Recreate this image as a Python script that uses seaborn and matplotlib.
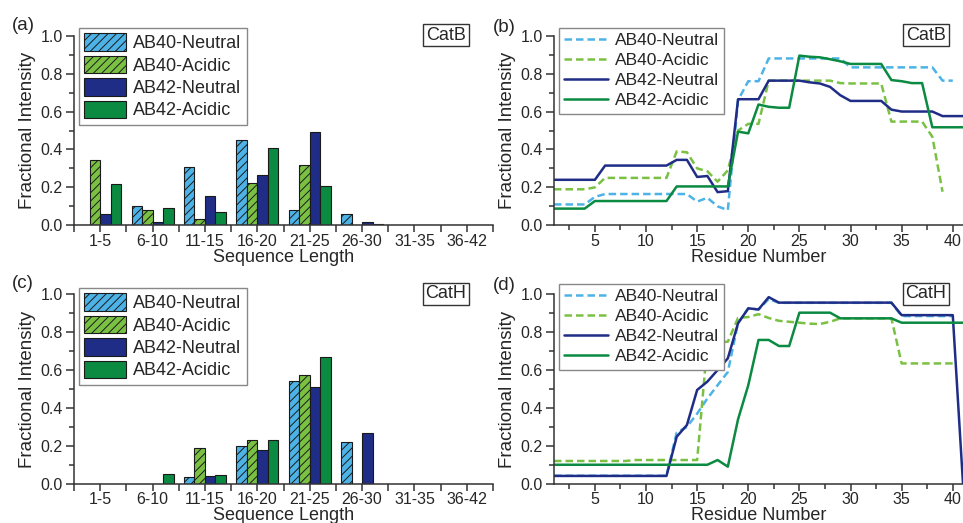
import numpy as np
import pandas as pd
import matplotlib
matplotlib.use("Agg")
import matplotlib.pyplot as plt
from matplotlib.ticker import MultipleLocator, FixedLocator
import seaborn as sns

sns.set_theme(style="ticks")
plt.rcParams["font.family"] = ["Liberation Sans", "DejaVu Sans"]
plt.rcParams["hatch.linewidth"] = 0.7

# ---- data ----
series = ["AB40-Neutral", "AB40-Acidic", "AB42-Neutral", "AB42-Acidic"]
colors = ["#4db3e6", "#7ac143", "#1f2d86", "#0b8a41"]

lengths = ["1-5", "6-10", "11-15", "16-20", "21-25", "26-30", "31-35", "36-42"]

# (a) CatB, fractional intensity per sequence length bin
catb_ab40_neutral = [0.0, 0.104, 0.308, 0.45, 0.081, 0.06, 0.0, 0.0]
catb_ab40_acidic = [0.343, 0.083, 0.035, 0.223, 0.316, 0.0, 0.0, 0.0]
catb_ab42_neutral = [0.058, 0.016, 0.155, 0.265, 0.494, 0.015, 0.0, 0.0]
catb_ab42_acidic = [0.22, 0.09, 0.07, 0.406, 0.207, 0.008, 0.0, 0.0]

# (c) CatH
cath_ab40_neutral = [0.0, 0.0, 0.035, 0.2, 0.54, 0.222, 0.0, 0.0]
cath_ab40_acidic = [0.0, 0.0, 0.19, 0.229, 0.576, 0.0, 0.0, 0.0]
cath_ab42_neutral = [0.0, 0.0, 0.04, 0.18, 0.51, 0.268, 0.0, 0.0]
cath_ab42_acidic = [0.0, 0.051, 0.048, 0.232, 0.667, 0.0, 0.0, 0.0]

residues = list(range(1, 42))

# (b) CatB, fractional intensity per residue
res_b_ab40_neutral = [0.11, 0.11, 0.11, 0.11, 0.15, 0.165, 0.165, 0.165, 0.165, 0.165,
                      0.165, 0.165, 0.165, 0.165, 0.125, 0.145, 0.1, 0.08, 0.66, 0.76,
                      0.76, 0.88, 0.88, 0.88, 0.88, 0.88, 0.88, 0.88, 0.88, 0.833,
                      0.833, 0.833, 0.833, 0.833, 0.833, 0.833, 0.833, 0.833, 0.763, 0.763]
res_b_ab40_acidic = [0.19, 0.19, 0.19, 0.19, 0.2, 0.25, 0.25, 0.25, 0.25, 0.25,
                     0.25, 0.25, 0.39, 0.385, 0.3, 0.285, 0.23, 0.29, 0.5, 0.535,
                     0.535, 0.763, 0.763, 0.763, 0.763, 0.763, 0.763, 0.763, 0.75, 0.748,
                     0.748, 0.748, 0.748, 0.547, 0.547, 0.547, 0.547, 0.467, 0.177]
res_b_ab42_neutral = [0.24, 0.24, 0.24, 0.24, 0.24, 0.315, 0.315, 0.315, 0.315, 0.315,
                      0.315, 0.315, 0.345, 0.345, 0.255, 0.26, 0.175, 0.18, 0.665, 0.665,
                      0.665, 0.763, 0.763, 0.763, 0.763, 0.754, 0.748, 0.73, 0.686, 0.656,
                      0.656, 0.656, 0.656, 0.61, 0.6, 0.6, 0.6, 0.6, 0.576, 0.576, 0.576]
res_b_ab42_acidic = [0.088, 0.088, 0.088, 0.088, 0.128, 0.128, 0.128, 0.128, 0.128, 0.128,
                     0.128, 0.128, 0.205, 0.205, 0.205, 0.205, 0.205, 0.205, 0.494, 0.485,
                     0.637, 0.625, 0.62, 0.62, 0.895, 0.889, 0.886, 0.876, 0.865, 0.851,
                     0.851, 0.851, 0.851, 0.766, 0.76, 0.75, 0.75, 0.517, 0.517, 0.517, 0.517]

# (d) CatH
res_d_ab40_neutral = [0.042, 0.042, 0.042, 0.042, 0.042, 0.042, 0.042, 0.042, 0.042, 0.042,
                      0.042, 0.042, 0.27, 0.3, 0.37, 0.45, 0.52, 0.59, 0.85, 0.925,
                      0.92, 0.975, 0.955, 0.955, 0.955, 0.955, 0.955, 0.955, 0.955, 0.955,
                      0.955, 0.955, 0.955, 0.955, 0.885, 0.885, 0.885, 0.885, 0.885, 0.885]
res_d_ab40_acidic = [0.12, 0.12, 0.12, 0.12, 0.12, 0.12, 0.12, 0.12, 0.125, 0.125,
                     0.125, 0.125, 0.125, 0.125, 0.125, 0.74, 0.745, 0.75, 0.875, 0.88,
                     0.895, 0.875, 0.86, 0.855, 0.85, 0.845, 0.843, 0.855, 0.873, 0.873,
                     0.873, 0.873, 0.873, 0.873, 0.635, 0.635, 0.635, 0.635, 0.635, 0.635]
res_d_ab42_neutral = [0.041, 0.041, 0.041, 0.041, 0.041, 0.041, 0.041, 0.041, 0.041, 0.041,
                      0.041, 0.041, 0.248, 0.31, 0.495, 0.539, 0.6, 0.662, 0.847, 0.926,
                      0.92, 0.985, 0.956, 0.956, 0.956, 0.956, 0.956, 0.956, 0.956, 0.956,
                      0.956, 0.956, 0.956, 0.956, 0.89, 0.89, 0.89, 0.89, 0.89, 0.89, 0.0]
res_d_ab42_acidic = [0.1, 0.1, 0.1, 0.1, 0.1, 0.1, 0.1, 0.1, 0.1, 0.1,
                     0.1, 0.1, 0.1, 0.1, 0.1, 0.1, 0.125, 0.09, 0.34, 0.52,
                     0.759, 0.759, 0.727, 0.727, 0.903, 0.903, 0.903, 0.903, 0.873, 0.873,
                     0.873, 0.873, 0.873, 0.873, 0.85, 0.85, 0.85, 0.85, 0.85, 0.85, 0.85]


def bar_frame(vals):
    rows = []
    for s, v in zip(series, vals):
        for cat, y in zip(lengths, v):
            rows.append({"length": cat, "series": s, "value": y})
    return pd.DataFrame(rows)


def line_frame(vals):
    rows = []
    for s, v in zip(series, vals):
        for r, y in zip(residues, v):
            rows.append({"residue": r, "series": s, "value": y})
    return pd.DataFrame(rows)


W, H = 963, 523
fig = plt.figure(figsize=(W / 100, H / 100), dpi=100)


def px_axes(left, top, right, bottom):
    return fig.add_axes([left / W, 1 - bottom / H, (right - left) / W, (bottom - top) / H])


ax_a = px_axes(74, 35.7, 493, 225.3)
ax_b = px_axes(554, 35.7, 963, 225.3)
ax_c = px_axes(74, 294.3, 493, 483.7)
ax_d = px_axes(554, 294.3, 963, 483.7)

spine_col = "#333333"


def style_axis(ax):
    sns.despine(ax=ax)
    for sp in ["left", "bottom"]:
        ax.spines[sp].set_color(spine_col)
        ax.spines[sp].set_linewidth(1.1)
    ax.set_ylim(0, 1.0)
    ax.yaxis.set_major_locator(MultipleLocator(0.2))
    ax.yaxis.set_minor_locator(MultipleLocator(0.1))
    ax.yaxis.set_major_formatter(plt.FormatStrFormatter("%.1f"))
    ax.tick_params(which="major", direction="out", length=6, width=1.1, color=spine_col,
                   labelsize=11.5, pad=2)
    ax.tick_params(which="minor", direction="out", length=3.5, width=1.1, color=spine_col)
    ax.tick_params(axis="x", which="major", length=5, pad=1)
    ax.set_ylabel("Fractional Intensity", fontsize=13.5, labelpad=3)


def legend_at(ax, handles, x, y, fs, hl, hh, ls):
    leg = ax.legend(handles, series, loc="upper left", bbox_to_anchor=(x / W, 1 - y / H),
                    bbox_transform=fig.transFigure, borderaxespad=0, fontsize=fs,
                    frameon=True, fancybox=False, framealpha=1, edgecolor="#888888",
                    borderpad=0.3, labelspacing=ls, handlelength=hl, handleheight=hh,
                    handletextpad=0.4)
    leg.get_frame().set_linewidth(1.0)
    return leg


def bar_panel(ax, vals, leg_y):
    df = bar_frame(vals)
    sns.barplot(data=df, x="length", y="value", hue="series", hue_order=series,
                order=lengths, palette=colors, saturation=1, width=0.8,
                edgecolor="#1a1a1a", linewidth=0.8, legend=False, ax=ax)
    for cont in ax.containers[:2]:
        for p in cont:
            p.set_hatch("////")
    style_axis(ax)
    ax.set_xlim(-0.5, 7.5)
    ax.xaxis.set_minor_locator(FixedLocator(np.arange(-0.5, 8, 1.0)))
    ax.tick_params(axis="x", which="minor", length=5)
    ax.set_xlabel("Sequence Length", fontsize=13, labelpad=0)
    legend_at(ax, ax.containers, 79, leg_y, 13, 2.3, 1.1, 0.2)


def line_panel(ax, vals, leg_y):
    df = line_frame(vals)
    sns.lineplot(data=df, x="residue", y="value", hue="series", hue_order=series,
                 style="series", style_order=series, palette=colors,
                 dashes={series[0]: (3, 1.6), series[1]: (3, 1.6), series[2]: "", series[3]: ""},
                 linewidth=1.8, legend=False, ax=ax)
    style_axis(ax)
    ax.set_xlim(1, 41)
    ax.xaxis.set_major_locator(MultipleLocator(5))
    ax.xaxis.set_minor_locator(MultipleLocator(2.5))
    ax.set_xlabel("Residue Number", fontsize=13, labelpad=0)
    legend_at(ax, ax.get_lines()[:4], 559, leg_y, 12.5, 2.5, 0.7, 0.28)


bar_panel(ax_a, [catb_ab40_neutral, catb_ab40_acidic, catb_ab42_neutral, catb_ab42_acidic], 28)
bar_panel(ax_c, [cath_ab40_neutral, cath_ab40_acidic, cath_ab42_neutral, cath_ab42_acidic], 288)
line_panel(ax_b, [res_b_ab40_neutral, res_b_ab40_acidic, res_b_ab42_neutral, res_b_ab42_acidic], 28)
line_panel(ax_d, [res_d_ab40_neutral, res_d_ab40_acidic, res_d_ab42_neutral, res_d_ab42_acidic], 284)

# panel letters and enzyme tags
for lab, x, y in [("(a)", 23, 26), ("(b)", 504, 27), ("(c)", 23, 284), ("(d)", 504, 286)]:
    fig.text(x / W, 1 - y / H, lab, ha="center", va="center", fontsize=13.5)
for lab, x, y in [("CatB", 446, 35), ("CatB", 926, 35), ("CatH", 446, 294), ("CatH", 926, 294)]:
    fig.text(x / W, 1 - y / H, lab, ha="center", va="center", fontsize=13,
             bbox=dict(boxstyle="square,pad=0.15", fc="white", ec="#333333", lw=1.0))

fig.savefig("out.png", dpi=100)
